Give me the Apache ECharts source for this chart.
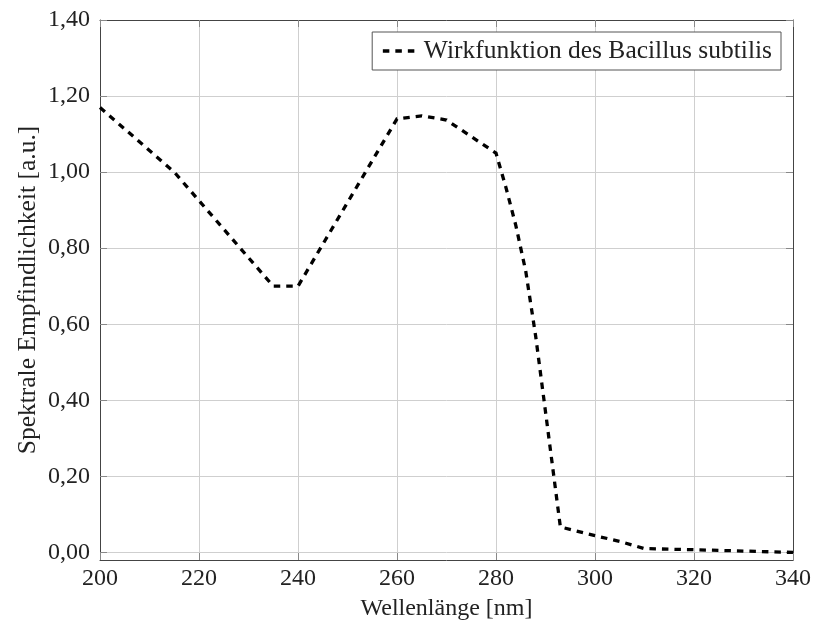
<!DOCTYPE html>
<html>
<head>
<meta charset="utf-8">
<script src="https://cdn.jsdelivr.net/npm/echarts@6/dist/echarts.min.js"></script>
<style>
  html, body { margin: 0; padding: 0; background: #fff; }
  #chart { width: 817px; height: 626px; }
</style>
</head>
<body>
<div id="chart"></div>
<script>
// Action spectrum of Bacillus subtilis (relative spectral sensitivity)
const wavelength = [200, 215, 235, 240, 260, 265, 270, 280, 282, 284, 286, 288, 290, 293, 300, 305, 310, 320, 340];
const sensitivity = [1.17, 1.00, 0.70, 0.70, 1.14, 1.148, 1.137, 1.05, 0.96, 0.86, 0.74, 0.57, 0.37, 0.067, 0.044, 0.029, 0.010, 0.007, 0.0];
const yTicks = [0, 0.2, 0.4, 0.6, 0.8, 1.0, 1.2, 1.4];
const seriesName = 'Wirkfunktion des Bacillus subtilis';
const xTitle = 'Wellenlänge [nm]';
const yTitle = 'Spektrale Empfindlichkeit [a.u.]';

const FONT = '"Liberation Serif", "Times New Roman", serif';
const TEXT = '#222';
const FRAME = '#444';
const GRID = '#cfcfcf';
const TICK = '#888';
const DASH = [6.5, 6];

const fmt = v => v.toFixed(2).replace('.', ',');

const chart = echarts.init(document.getElementById('chart'), null, { renderer: 'canvas' });

const baseX = {
  type: 'value', min: 200, max: 340, interval: 20,
  axisLine: { show: true, onZero: false, lineStyle: { color: FRAME, width: 1 } },
  axisTick: { show: true, inside: true, length: 7, lineStyle: { color: TICK } },
  splitLine: { show: false }
};
const baseY = {
  type: 'value', min: -0.02, max: 1.40,
  axisLine: { show: true, onZero: false, lineStyle: { color: FRAME, width: 1 } },
  axisTick: { show: true, inside: true, length: 7, customValues: yTicks, lineStyle: { color: TICK } },
  splitLine: { show: false }
};

chart.setOption({
  animation: false,
  textStyle: { fontFamily: FONT, color: TEXT },
  grid: { left: 100, right: 24, top: 20, bottom: 66, containLabel: false },
  legend: {
    show: true,
    right: 36, top: 32,
    padding: [6, 9, 6, 9],
    itemWidth: 32, itemHeight: 12, itemGap: 10,
    borderColor: '#555', borderWidth: 1, backgroundColor: '#fff',
    itemStyle: { opacity: 0 },
    lineStyle: { color: '#000', width: 3.3, type: DASH, cap: 'butt' },
    textStyle: { fontFamily: FONT, fontSize: 25.5, color: TEXT, padding: [0, 0, 0, 4] },
    data: [seriesName]
  },
  xAxis: [
    Object.assign({}, baseX, {
      position: 'bottom',
      name: xTitle, nameLocation: 'middle', nameGap: 37, nameMoveOverlap: false,
      nameTextStyle: { fontFamily: FONT, fontSize: 24, color: TEXT },
      axisLabel: { show: true, margin: 7, fontFamily: FONT, fontSize: 24, color: TEXT },
      splitLine: { show: true, lineStyle: { color: GRID, width: 1 } }
    }),
    Object.assign({}, baseX, { position: 'top', axisLabel: { show: false } })
  ],
  yAxis: [
    Object.assign({}, baseY, {
      position: 'left',
      name: yTitle, nameLocation: 'middle', nameGap: 59, nameRotate: 90, nameMoveOverlap: false,
      nameTextStyle: { fontFamily: FONT, fontSize: 25.5, color: TEXT },
      axisLabel: { show: true, margin: 10, customValues: yTicks, fontFamily: FONT, fontSize: 24, color: TEXT, formatter: fmt },
      splitLine: { show: true, lineStyle: { color: GRID, width: 1 } }
    }),
    Object.assign({}, baseY, { position: 'right', axisLabel: { show: false } })
  ],
  series: [{
    name: seriesName,
    type: 'line',
    xAxisIndex: 0, yAxisIndex: 0,
    data: wavelength.map((w, i) => [w, sensitivity[i]]),
    showSymbol: false, symbol: 'none',
    lineStyle: { color: '#000', width: 3.3, type: DASH, cap: 'butt', join: 'miter' },
    itemStyle: { color: '#000' }
  }]
});
</script>
</body>
</html>
